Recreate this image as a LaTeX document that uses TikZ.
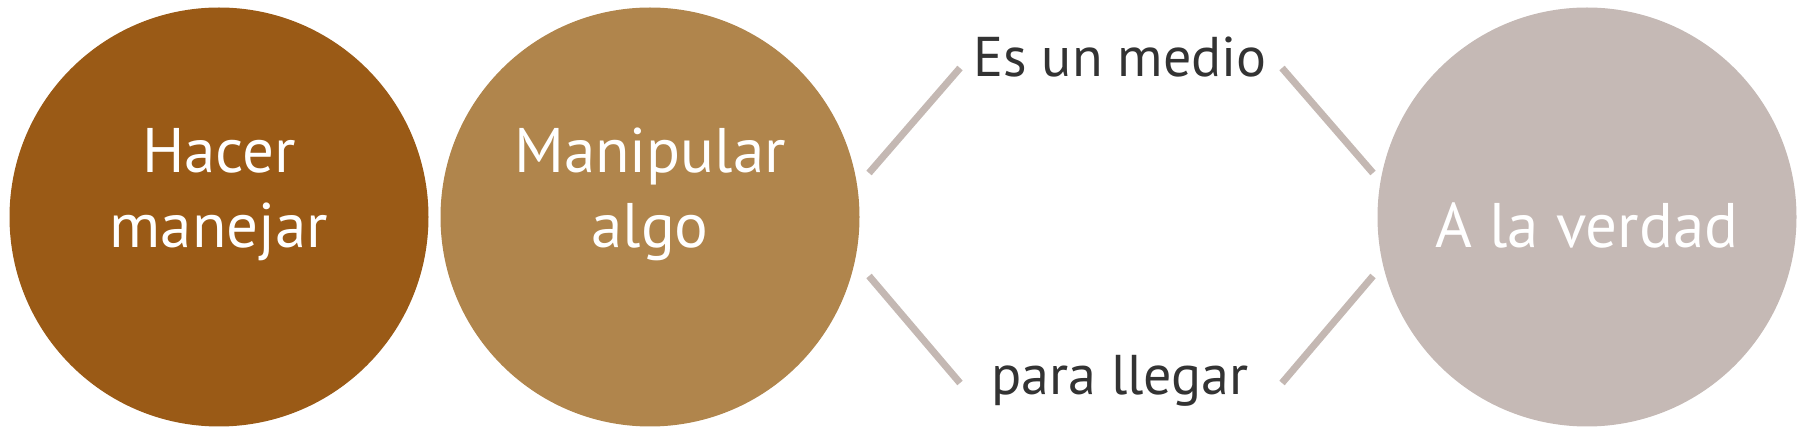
\documentclass[tikz,border=0pt]{standalone}
\usepackage{fontspec}
\setmainfont{PT Sans}
\usepackage{tikz}
\usetikzlibrary{positioning}
\definecolor{hacercol}{HTML}{9A5A16}
\definecolor{manipcol}{HTML}{B0854C}
\definecolor{verdadcol}{HTML}{C5B9B5}
\definecolor{linkcol}{HTML}{C4B8B3}
\definecolor{wordcol}{HTML}{333333}
\tikzset{
    x=1pt, y=-1pt,
    bubble/.style={circle, inner sep=0pt, minimum size=419pt},
    bubbletext/.style={anchor=base, align=center, text=white,
        font=\fontsize{63}{75}\selectfont},
    linktext/.style={anchor=base, text=wordcol,
        font=\fontsize{56}{66}\selectfont},
    link/.style={draw=linkcol, line width=7pt},
}

\begin{document}
\begin{tikzpicture}
        \useasboundingbox (0,0) rectangle (1797,427);
        \node[bubble, fill=hacercol] (hacer) at (219,217) {};
        \node[bubble, fill=manipcol] (manip) at (650,217) {};
        \node[bubble, fill=verdadcol] (verdad) at (1587,217) {};

        \node[bubbletext] (hacert) at (219,248) {Hacer\\manejar};
        \node[bubbletext] (manipt) at (650,248) {Manipular\\algo};
        \node[bubbletext] (verdadt) at (1587,248) {A la verdad};

        \node[linktext] (medio) at (1120,77) {Es un medio};
        \node[linktext] (llegar) at (1120,395) {para llegar};

        % ends of the four strokes
        \coordinate (ml) at (869,173);
        \coordinate (mr) at (1373,173);
        \coordinate (ll) at (869,276);
        \coordinate (lr) at (1373,276);
        \coordinate (tl) at (960,68);
        \coordinate (tr) at (1282,68);
        \coordinate (bl) at (960,383);
        \coordinate (br) at (1282,383);

    \path[link]
        (ml) edge (tl)
        (tr) edge (mr)
        (ll) edge (bl)
        (br) edge (lr);
    \end{tikzpicture}
\end{document}
